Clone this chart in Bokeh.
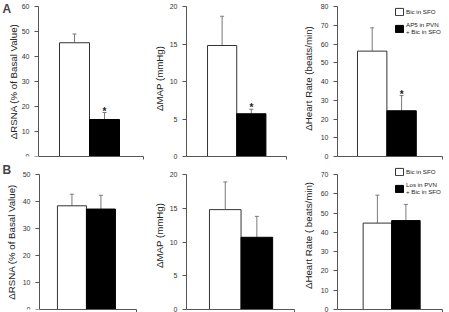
from bokeh.plotting import figure
from bokeh.layouts import row, column
from bokeh.models import (Range1d, FixedTicker, ColumnDataSource, Whisker,
                          TeeHead, Legend, LegendItem, Label)
from bokeh.core.properties import value
from bokeh.embed import file_html
from bokeh.resources import INLINE

FONT = "Liberation Sans"

xpos = [1.0, 2.0]

# Panel A: AP5 in PVN
a_rsna = [45.5, 14.8]
a_rsna_err = [3.5, 2.8]
a_map = [14.8, 5.7]
a_map_err = [3.9, 0.6]
a_hr = [56.2, 24.4]
a_hr_err = [12.4, 8.1]

# Panel B: Los in PVN
b_rsna = [38.4, 37.2]
b_rsna_err = [4.3, 5.1]
b_map = [14.8, 10.7]
b_map_err = [4.1, 3.1]
b_hr = [44.8, 46.1]
b_hr_err = [14.5, 8.4]

stars_a = ["", "*"]

a_labels = ["Bic in SFO", "AP5 in PVN\n+ Bic in SFO"]
b_labels = ["Bic in SFO", "Los in PVN\n+ Bic in SFO"]


def panel(vals, errs, ymax, ystep, yend, ylabel, width, height, left, bottom,
          xstart, xaxis_end, xend, label_standoff, fixed_x=None,
          stars=None, legend=None, legend_loc=None):
    p = figure(width=width, height=height, output_backend="svg",
               toolbar_location=None, x_range=Range1d(xstart, xend),
               y_range=Range1d(0, yend), min_border_left=left,
               min_border_right=0, min_border_top=0,
               min_border_bottom=bottom, background_fill_color="white",
               border_fill_color="white")
    p.outline_line_color = None
    p.grid.visible = False
    src_w = ColumnDataSource(dict(x=[xpos[0]], top=[vals[0]]))
    src_b = ColumnDataSource(dict(x=[xpos[1]], top=[vals[1]]))
    rw = p.vbar(x="x", top="top", width=1.0, source=src_w, fill_color="white",
                line_color="#333333", line_width=1)
    rb = p.vbar(x="x", top="top", width=1.0, source=src_b, fill_color="black",
                line_color="black", line_width=1)
    esrc = ColumnDataSource(dict(x=xpos, lo=vals,
                                 hi=[v + e for v, e in zip(vals, errs)]))
    w = Whisker(source=esrc, base="x", lower="lo", upper="hi",
                line_color="#7a7a7a", line_width=1,
                upper_head=TeeHead(size=4, line_color="#7a7a7a", line_width=1),
                lower_head=None, level="underlay")
    p.add_layout(w)
    ax0 = xstart if fixed_x is None else fixed_x
    # x axis
    xa = p.xaxis[0]
    xa.bounds = (ax0, xaxis_end)
    xa.ticker = FixedTicker(ticks=[], minor_ticks=[xaxis_end])
    xa.major_tick_out = 0
    xa.major_tick_in = 0
    xa.minor_tick_in = 0
    xa.minor_tick_out = 3
    xa.axis_line_color = "#555555"
    xa.minor_tick_line_color = "#555555"
    # y axis
    ya = p.yaxis[0]
    ya.bounds = (0, ymax)
    if fixed_x is not None:
        ya.fixed_location = fixed_x
    ya.ticker = FixedTicker(ticks=list(range(0, ymax + 1, ystep)))
    ya.major_tick_in = 0
    ya.major_tick_out = 4
    ya.minor_tick_line_color = None
    ya.axis_line_color = "#555555"
    ya.major_tick_line_color = "#555555"
    ya.major_label_text_font = FONT
    ya.major_label_text_font_size = "7px"
    ya.major_label_text_color = "#333333"
    ya.major_label_standoff = 5
    ya.axis_label = ylabel
    ya.axis_label_text_font = FONT
    ya.axis_label_text_font_size = "9.7px"
    ya.axis_label_text_font_style = "normal"
    ya.axis_label_text_color = "#222222"
    ya.axis_label_standoff = label_standoff
    if stars is not None:
        ssrc = ColumnDataSource(dict(x=xpos, y=[v + e for v, e in zip(vals, errs)],
                                     t=stars))
        p.text(x="x", y="y", text="t", source=ssrc, text_font=value(FONT),
               text_font_size="10px", text_font_style="bold",
               text_align="center", text_baseline="bottom", y_offset=4,
               text_color="#222222")
    if legend is not None:
        lg = Legend(items=[LegendItem(label=legend[0], renderers=[rw]),
                           LegendItem(label=legend[1], renderers=[rb])],
                    location=legend_loc, orientation="vertical",
                    background_fill_alpha=0, border_line_color=None,
                    label_text_font=FONT, label_text_font_size="6.2px",
                    label_text_color="#222222", glyph_width=10,
                    glyph_height=9, label_standoff=2, spacing=5, padding=0,
                    margin=0, label_height=8, label_text_line_height=1.45)
        p.add_layout(lg)
    return p


# row A: frame spans y 0..156 (axis top at 6)
a1 = panel(a_rsna, a_rsna_err, 60, 10, 62.4, "\u0394RSNA (% of Basal Value)",
           150, 161, 0, 5, -1.4667, 3.3, 3.533, 0, fixed_x=-0.2,
           stars=stars_a)
a2 = panel(a_map, a_map_err, 20, 5, 20.8, "\u0394MAP (mmHg)",
           149, 161, 31, 5, -0.22, 3.19, 3.65, 2, stars=stars_a)
a3 = panel(a_hr, a_hr_err, 80, 10, 83.2, "\u0394Heart Rate (beats/min)",
           150, 161, 32, 5, -0.18, 3.40, 3.63, 4, stars=stars_a,
           legend=a_labels, legend_loc=(57, 121))
# row B: frame spans y 161..309 (axis top at 174)
b1 = panel(b_rsna, b_rsna_err, 50, 10, 54.81, "\u0394RSNA (% of Basal Value)",
           150, 151, 0, 3, -1.4648, 3.22, 3.71, 3, fixed_x=-0.12)
b2 = panel(b_map, b_map_err, 20, 5, 21.93, "\u0394MAP (mmHg)",
           149, 151, 31, 3, -0.227, 3.197, 3.35, 2)
b3 = panel(b_hr, b_hr_err, 70, 10, 76.74, "\u0394Heart Rate ( beats/min)",
           150, 151, 32, 3, -0.4, 3.3, 3.53, 4,
           legend=b_labels, legend_loc=(57, 114))

a1.add_layout(Label(x=-1.40, y=62.0, text="A", text_font=FONT,
                    text_font_size="12px", text_font_style="bold",
                    text_baseline="top", text_align="left"))
b1.add_layout(Label(x=-1.396, y=54.07, text="B", text_font=FONT,
                    text_font_size="12px", text_font_style="bold",
                    text_baseline="top", text_align="left"))

layout = column(row(a1, a2, a3, spacing=0), row(b1, b2, b3, spacing=0),
                spacing=0)
open("out.html", "w").write(file_html(layout, INLINE))
